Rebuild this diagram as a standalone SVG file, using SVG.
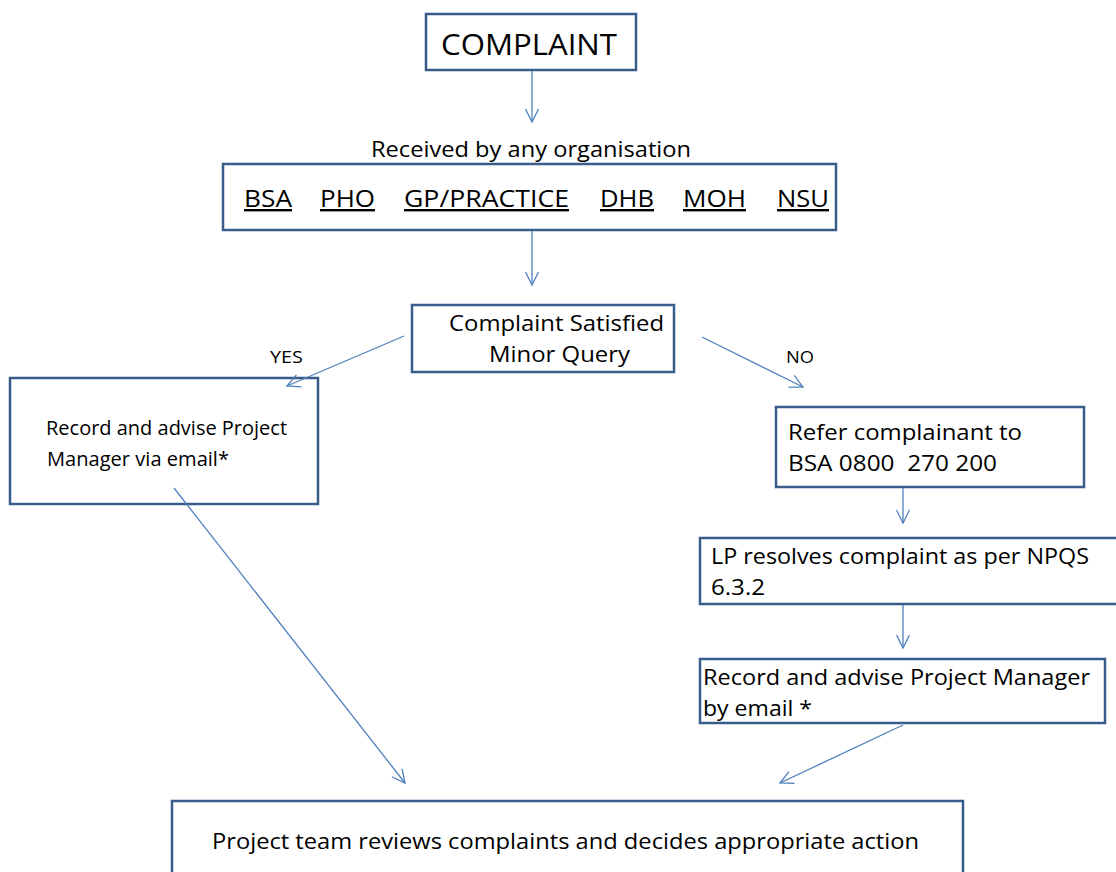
<svg xmlns="http://www.w3.org/2000/svg" width="1116" height="872" viewBox="0 0 1116 872">
<style>
.box{fill:#fff;stroke:#385D8A;stroke-width:2.5}
.t{font-family:"Open Sans","Liberation Sans",sans-serif;fill:#000}
.c{fill:none;stroke:#4F81BD;stroke-width:1.3}
.u{text-decoration:underline}
</style>
<defs>
<marker id="ah" markerUnits="userSpaceOnUse" markerWidth="16" markerHeight="16" viewBox="-14 -8 16 16" refX="0" refY="0" orient="auto">
<path d="M-13,-6.5 L0,0 L-13,6.5" fill="none" stroke="#4F81BD" stroke-width="1.3"/>
</marker>
</defs>
<rect width="1116" height="872" fill="#fff"/>
<g id="complaint">
<rect class="box" x="426" y="14" width="210" height="56"/>
<text class="t" x="529" y="55" font-size="30" text-anchor="middle" textLength="176" lengthAdjust="spacingAndGlyphs">COMPLAINT</text>
</g>
<g id="received-label">
<text class="t" x="531" y="157" font-size="22" text-anchor="middle" textLength="320" lengthAdjust="spacingAndGlyphs">Received by any organisation</text>
</g>
<g id="organisations">
<rect class="box" x="223" y="164" width="613" height="66"/>
<text class="t u" x="244" y="207" font-size="24" textLength="48" lengthAdjust="spacingAndGlyphs">BSA</text>
<text class="t u" x="320" y="207" font-size="24" textLength="55" lengthAdjust="spacingAndGlyphs">PHO</text>
<text class="t u" x="404" y="207" font-size="24" textLength="165" lengthAdjust="spacingAndGlyphs">GP/PRACTICE</text>
<text class="t u" x="600" y="207" font-size="24" textLength="54" lengthAdjust="spacingAndGlyphs">DHB</text>
<text class="t u" x="683" y="207" font-size="24" textLength="63" lengthAdjust="spacingAndGlyphs">MOH</text>
<text class="t u" x="777" y="207" font-size="24" textLength="52" lengthAdjust="spacingAndGlyphs">NSU</text>
</g>
<g id="satisfied">
<rect class="box" x="412" y="305" width="262" height="67"/>
<text class="t" x="449" y="331" font-size="22" textLength="215" lengthAdjust="spacingAndGlyphs">Complaint Satisfied</text>
<text class="t" x="489" y="362" font-size="22" textLength="141" lengthAdjust="spacingAndGlyphs">Minor Query</text>
</g>
<g id="yes-label">
<text class="t" x="270" y="363" font-size="16" textLength="33" lengthAdjust="spacingAndGlyphs">YES</text>
</g>
<g id="no-label">
<text class="t" x="786" y="363" font-size="16" textLength="28" lengthAdjust="spacingAndGlyphs">NO</text>
</g>
<g id="record-left">
<rect class="box" x="10" y="378" width="308" height="126"/>
<text class="t" x="46" y="435" font-size="20" textLength="241" lengthAdjust="spacingAndGlyphs">Record and advise Project</text>
<text class="t" x="47" y="466" font-size="20" textLength="182" lengthAdjust="spacingAndGlyphs">Manager via email*</text>
</g>
<g id="refer">
<rect class="box" x="776" y="407" width="308" height="80"/>
<text class="t" x="788" y="440" font-size="22" textLength="234" lengthAdjust="spacingAndGlyphs">Refer complainant to</text>
<text class="t" x="788" y="471" font-size="22" textLength="209" lengthAdjust="spacingAndGlyphs" xml:space="preserve">BSA 0800  270 200</text>
</g>
<g id="lp-resolves">
<rect class="box" x="700" y="538" width="430" height="66"/>
<text class="t" x="711" y="564" font-size="22" textLength="378" lengthAdjust="spacingAndGlyphs">LP resolves complaint as per NPQS</text>
<text class="t" x="711" y="595" font-size="22" textLength="54" lengthAdjust="spacingAndGlyphs">6.3.2</text>
</g>
<g id="record-right">
<rect class="box" x="700" y="659" width="405" height="64"/>
<text class="t" x="703" y="685" font-size="22" textLength="387" lengthAdjust="spacingAndGlyphs">Record and advise Project Manager</text>
<text class="t" x="703" y="716" font-size="22" textLength="109" lengthAdjust="spacingAndGlyphs">by email *</text>
</g>
<g id="project-team">
<rect class="box" x="172" y="801" width="791" height="90"/>
<text class="t" x="212" y="849" font-size="22" textLength="707" lengthAdjust="spacingAndGlyphs">Project team reviews complaints and decides appropriate action</text>
</g>
<g id="connectors">
<line class="c" x1="532" y1="71" x2="532" y2="122" marker-end="url(#ah)"/>
<line class="c" x1="532" y1="231" x2="532" y2="285" marker-end="url(#ah)"/>
<line class="c" x1="404" y1="336" x2="287" y2="386" marker-end="url(#ah)"/>
<line class="c" x1="702" y1="337" x2="803" y2="387" marker-end="url(#ah)"/>
<line class="c" x1="903" y1="488" x2="903" y2="523" marker-end="url(#ah)"/>
<line class="c" x1="903" y1="605" x2="903" y2="648" marker-end="url(#ah)"/>
<line class="c" x1="174" y1="488" x2="405" y2="783" marker-end="url(#ah)"/>
<line class="c" x1="903" y1="725" x2="780" y2="783" marker-end="url(#ah)"/>
</g>
</svg>
